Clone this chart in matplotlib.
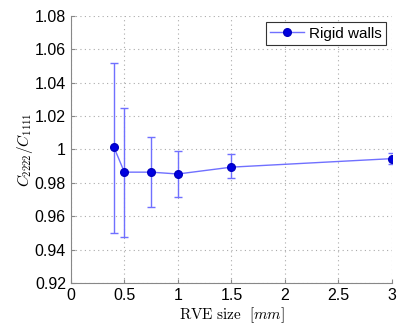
import numpy as np
import matplotlib
matplotlib.use('Agg')
import matplotlib.pyplot as plt

plt.rcParams['mathtext.fontset'] = 'cm'
plt.rcParams['font.family'] = ['Liberation Sans', 'DejaVu Sans']

# данные
rve_size = [0.4, 0.5, 0.75, 1.0, 1.5, 3.0]
ratio = [1.0017, 0.9864, 0.9864, 0.9853, 0.9894, 0.9945]
err_low = [0.9500, 0.9478, 0.9654, 0.9717, 0.9828, 0.9913]
err_high = [1.0520, 1.0247, 1.0073, 0.9993, 0.9973, 0.9977]

yerr = [np.array(ratio) - np.array(err_low), np.array(err_high) - np.array(ratio)]

fig = plt.figure(figsize=(3.98, 3.31), dpi=100)
ax = fig.add_axes([0.178, 0.145, 0.807, 0.807])

ax.errorbar(rve_size, ratio, yerr=yerr, fmt='none', ecolor='#7070ff',
            elinewidth=1.0, capsize=3)
ax.plot(rve_size, ratio, color='#7070ff', lw=1.0, marker='o', markersize=5.5,
        markerfacecolor='#0000e0', markeredgecolor='#0000c0', label='Rigid walls')

ax.set_xlim(0, 3)
ax.set_ylim(0.92, 1.08)
ax.set_xticks(np.arange(0, 3.01, 0.5))
ax.set_xticklabels(['0', '0.5', '1', '1.5', '2', '2.5', '3'])
ax.set_yticks(np.arange(0.92, 1.081, 0.02))
ax.set_yticklabels(['0.92', '0.94', '0.96', '0.98', '1', '1.02', '1.04', '1.06', '1.08'])
ax.grid(True, linestyle=(0, (1, 3)), color='#aaaaaa', linewidth=0.8)
ax.tick_params(labelsize=11.5, direction='in', length=3, color='#888888')
ax.spines['top'].set_visible(False)
ax.spines['right'].set_visible(False)
for s in ['left', 'bottom']:
    ax.spines[s].set_color('#888888')

ax.set_xlabel(r'$\mathrm{RVE\ size}\ \ [mm]$', fontsize=11, labelpad=2)
ax.set_ylabel(r'$C_{2222}/C_{1111}$', fontsize=11, labelpad=0)

leg = ax.legend(loc='upper right', fontsize=11, fancybox=False, framealpha=1,
                edgecolor='#333333', handlelength=2.2, handletextpad=0.3,
                borderaxespad=0.4, borderpad=0.3)
leg.get_frame().set_linewidth(0.8)

fig.savefig('out.png', dpi=100)
